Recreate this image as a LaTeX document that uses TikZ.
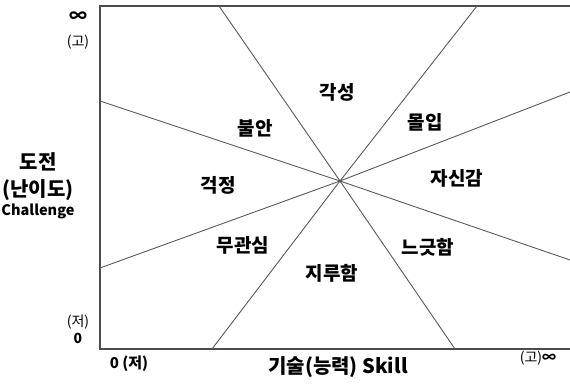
\documentclass[tikz,border=0pt]{standalone}
\usepackage{fontspec}
\setmainfont{Noto Sans CJK KR}
\newfontfamily\kr{Noto Sans CJK KR}
\begin{document}
\begin{tikzpicture}[x=1pt,y=-1pt,
  axisline/.style={draw=black!70,line width=1.2pt},
  ray/.style={draw=black!65,line width=0.9pt},
  zone/.style={font=\kr\bfseries\fontsize{19}{20}\selectfont,inner sep=0pt},
  axislab/.style={font=\kr\bfseries\fontsize{20}{22}\selectfont,inner sep=0pt,align=center},
  small/.style={font=\kr\fontsize{14}{15}\selectfont,inner sep=0pt},
  smallb/.style={font=\kr\bfseries\fontsize{14}{15}\selectfont,inner sep=0pt}]
\useasboundingbox (0,0) rectangle (570,390);
% frame
\coordinate (tl) at (100,6);
\coordinate (tr) at (570,6);
\coordinate (bl) at (100,349);
\coordinate (br) at (570,349);
\draw[axisline] (tr) -- (tl) -- (bl) -- (br);
% rays
\coordinate (c) at (340,181);
\coordinate (t1) at (219,6);
\coordinate (t2) at (477,6);
\coordinate (b1) at (212,349);
\coordinate (b2) at (455,349);
\coordinate (l1) at (100,101);
\coordinate (l2) at (100,268);
\coordinate (r1) at (570,92);
\coordinate (r2) at (570,260);
\draw[ray] (t1) -- (c) -- (b2);
\draw[ray] (t2) -- (c) -- (b1);
\draw[ray] (l1) -- (c) -- (r2);
\draw[ray] (l2) -- (c) -- (r1);
% zone labels
\node[zone] (z1) at (337,92) {각성};
\node[zone] (z2) at (255,128) {불안};
\node[zone] (z3) at (425,122) {몰입};
\node[zone] (z4) at (218,185) {걱정};
\node[zone] (z5) at (457,178) {자신감};
\node[zone] (z6) at (243,245) {무관심};
\node[zone] (z7) at (332,273) {지루함};
\node[zone] (z8) at (428,247) {느긋함};
% axis labels
\node[font=\kr\bfseries\fontsize{18}{18}\selectfont,inner sep=0pt] (inf1) at (78,17) {∞};
\node[small] (hi1) at (78,42) {(고)};
\node[axislab] (ylab) at (38,162) {도전};
\node[axislab] (ylab2) at (38,190) {(난이도)};
\node[smallb,font=\kr\bfseries\fontsize{14.5}{15}\selectfont] (ylab3) at (38,211) {Challenge};
\node[small] (lo1) at (78,322) {(저)};
\node[smallb] (zero1) at (78,338) {0};
\node[smallb,font=\kr\bfseries\fontsize{15}{16}\selectfont] (zero2) at (129,364) {0 (저)};
\node[axislab] (xlab) at (338,367) {기술(능력) Skill};
\node[small] (hi2) at (538,358) {(고)\textbf{∞}};
\end{tikzpicture}
\end{document}
